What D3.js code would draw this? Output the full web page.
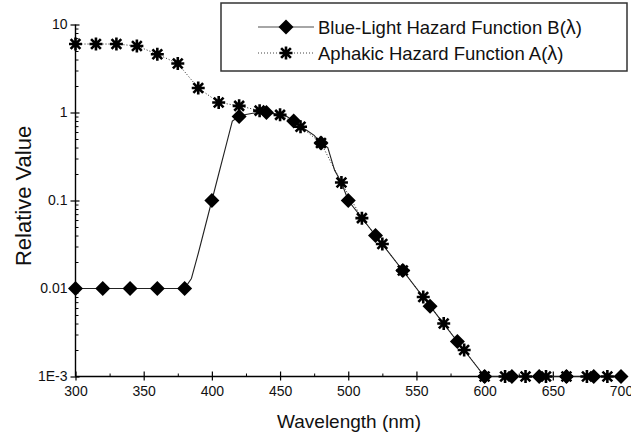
<!DOCTYPE html>
<html>
<head>
<meta charset="utf-8">
<script src="https://cdn.jsdelivr.net/npm/d3@7"></script>
<style>
  body { margin: 0; background: #fff; }
  svg { display: block; font-family: "Liberation Sans", Arial, sans-serif; }
</style>
</head>
<body>
<div id="viz"></div>
<script>
// Blue-light hazard B(lambda): 20 nm markers, extra points where the line bends
var bWave  = [300,320,340,360,380,385,390,395,400,405,410,415,420,425,430,435,440,445,450,455,460,465,470,475,480,485,490,495,500,520,540,560,580,600,620,640,660,680,700];
var bValue = [0.01,0.01,0.01,0.01,0.01,0.013,0.025,0.05,0.1,0.2,0.4,0.8,0.9,0.95,0.98,1.0,1.0,0.97,0.94,0.9,0.8,0.7,0.62,0.55,0.45,0.4,0.22,0.16,0.1,0.04,0.016,0.0063,0.0025,0.001,0.001,0.001,0.001,0.001,0.001];
// Aphakic hazard A(lambda), markers every 15 nm
var aWave  = [300,315,330,345,360,375,390,405,420,435,450,465,480,495,510,525,540,555,570,585,600,615,630,645,660,675,690];
var aValue = [6,6,6,5.7,4.6,3.6,1.9,1.3,1.19,1.05,0.94,0.69,0.45,0.16,0.063,0.032,0.016,0.008,0.004,0.002,0.001,0.001,0.001,0.001,0.001,0.001,0.001];

var xTicks = [300,350,400,450,500,550,600,650,700];
var xMinor = [325,375,425,475,525,575,625,675];
var yTicks = [10,1,0.1,0.01,0.001];
var yLabels = ["10","1","0.1","0.01","1E-3"];
var legendNames = ["Blue-Light Hazard Function B(", "Aphakic Hazard Function A("];

var width = 631, height = 436;
var svg = d3.select("#viz").append("svg").attr("width", width).attr("height", height);

var x = d3.scaleLinear().domain([300, 700]).range([75.5, 621]);
var y = d3.scaleLog().domain([0.001, 10]).range([376.5, 24.5]);

// minor y ticks (2..9 per decade)
var yMinor = [];
[0.001,0.01,0.1,1].forEach(function(d){ for (var k=2;k<10;k++) yMinor.push(d*k); });

// x axis
var gx = svg.append("g").attr("transform", "translate(0,376.5)");
gx.call(d3.axisBottom(x).tickValues(xTicks).tickSize(4).tickFormat(d3.format("d")))
gx.select(".domain").attr("stroke", "#000").attr("stroke-width", 1.4).attr("d", "M75.5,0H621");
gx.selectAll(".tick line").attr("y1", -5).attr("y2", 4).attr("stroke-width", 1.2);
gx.selectAll(".tick text").attr("y", 10).attr("font-size", 14).attr("fill", "#111")
  .attr("font-family", "Liberation Sans, Arial, sans-serif");
var gxm = svg.append("g").attr("transform", "translate(0,376.5)");
gxm.call(d3.axisBottom(x).tickValues(xMinor).tickSize(-3).tickFormat(""));
gxm.select(".domain").remove();

// y axis
var gy = svg.append("g").attr("transform", "translate(75.5,0)");
gy.call(d3.axisLeft(y).tickValues(yTicks).tickSize(5).tickFormat(function(d,i){ return yLabels[i]; }));
gy.select(".domain").attr("stroke", "#000").attr("stroke-width", 1.4).attr("d", "M0,24.5V376.5");
gy.selectAll(".tick line").attr("x1", -5).attr("x2", 4).attr("stroke-width", 1.2);
gy.selectAll(".tick text").attr("x", -8).attr("font-size", 14).attr("fill", "#111")
  .attr("font-family", "Liberation Sans, Arial, sans-serif");
var gym = svg.append("g").attr("transform", "translate(75.5,0)");
gym.call(d3.axisLeft(y).tickValues(yMinor).tickSize(-3).tickFormat(""));
gym.select(".domain").remove();

// axis titles
svg.append("text").attr("x", 349).attr("y", 428).attr("text-anchor", "middle")
  .attr("font-size", 19).attr("fill", "#111").text("Wavelength (nm)");
svg.append("text").attr("transform", "translate(31,196) rotate(-90)").attr("text-anchor", "middle")
  .attr("font-size", 22).attr("fill", "#111").text("Relative Value");

var bData = bWave.map(function(w,i){ return [w, bValue[i]]; });
var aData = aWave.map(function(w,i){ return [w, aValue[i]]; });
var line = d3.line().x(function(d){ return x(d[0]); }).y(function(d){ return y(d[1]); });

svg.append("path").datum(bData).attr("d", line).attr("fill", "none")
  .attr("stroke", "#222").attr("stroke-width", 1.1);
svg.append("path").datum(aData).attr("d", line).attr("fill", "none")
  .attr("stroke", "#222").attr("stroke-width", 1).attr("stroke-dasharray", "1,2");

function diamond(g, cx, cy) {
  var r = 7.5;
  g.append("path").attr("d", "M" + cx + "," + (cy-r) + "L" + (cx+r) + "," + cy + "L" + cx + "," + (cy+r) + "L" + (cx-r) + "," + cy + "Z")
    .attr("fill", "#000");
}
function star(g, cx, cy) {
  var r = 6.5;
  var p = "M" + (cx-r) + "," + cy + "H" + (cx+r) + "M" + cx + "," + (cy-r) + "V" + (cy+r) +
    "M" + (cx-r*0.75) + "," + (cy-r*0.75) + "L" + (cx+r*0.75) + "," + (cy+r*0.75) +
    "M" + (cx-r*0.75) + "," + (cy+r*0.75) + "L" + (cx+r*0.75) + "," + (cy-r*0.75);
  g.append("path").attr("d", p).attr("stroke", "#000").attr("stroke-width", 2.6).attr("fill", "none");
}

var marks = svg.append("g");
bData.filter(function(d){ return (d[0]-300) % 20 === 0; }).forEach(function(d){ diamond(marks, x(d[0]), y(d[1])); });
aData.forEach(function(d){ star(marks, x(d[0]), y(d[1])); });

// legend
var lg = svg.append("g");
lg.append("rect").attr("x", 221).attr("y", 3).attr("width", 406).attr("height", 68)
  .attr("fill", "#fff").attr("stroke", "#333").attr("stroke-width", 1.5);
lg.append("line").attr("x1", 258).attr("x2", 314).attr("y1", 27).attr("y2", 27)
  .attr("stroke", "#888").attr("stroke-width", 1.4);
diamond(lg, 286, 27);
lg.append("line").attr("x1", 258).attr("x2", 314).attr("y1", 53).attr("y2", 53)
  .attr("stroke", "#444").attr("stroke-width", 1).attr("stroke-dasharray", "1,2");
star(lg, 286, 53);
legendNames.forEach(function(n, i){
  var t = lg.append("text").attr("x", 318).attr("y", 34 + i*26).attr("font-size", 18.5).attr("fill", "#111");
  t.append("tspan").text(n);
  t.append("tspan").attr("font-size", 20).text("\u03bb");
  t.append("tspan").text(")");
});
</script>
</body>
</html>
